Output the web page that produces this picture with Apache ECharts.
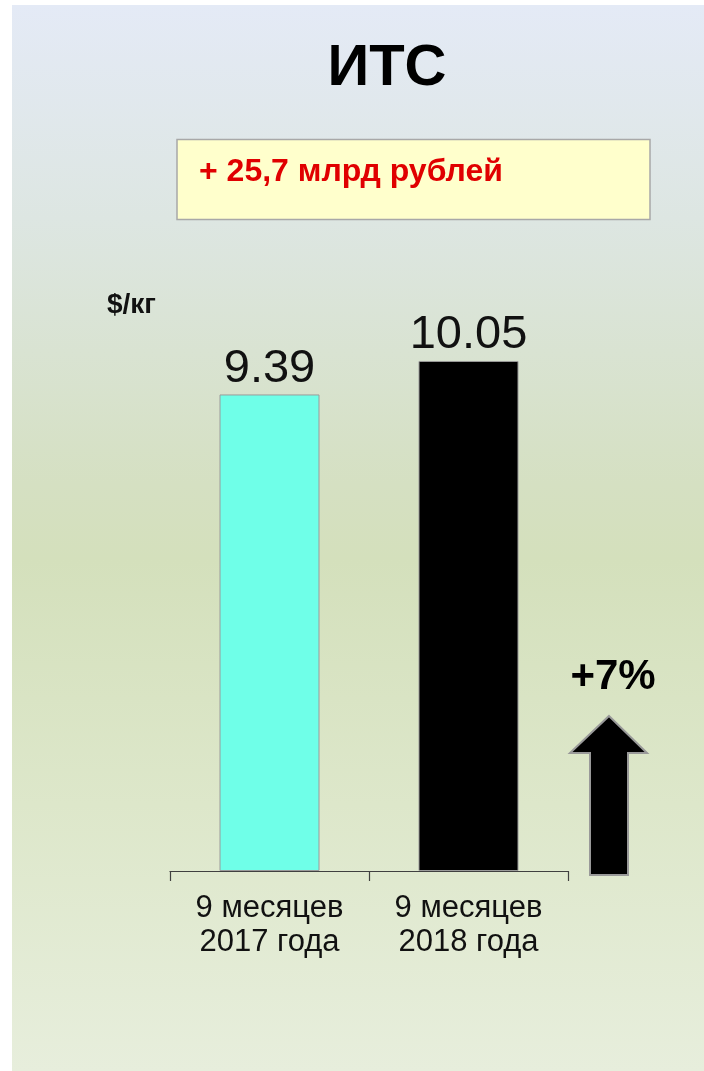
<!DOCTYPE html>
<html>
<head>
<meta charset="utf-8">
<script src="https://cdn.jsdelivr.net/npm/echarts@6/dist/echarts.min.js"></script>
<style>
html,body{margin:0;padding:0;background:#ffffff;}
#chart{width:704px;height:1071px;}
</style>
</head>
<body>
<div id="chart"></div>
<script>
var categories = ['9 месяцев\n2017 года', '9 месяцев\n2018 года'];
var values = [9.39, 10.05];
var barColors = ['#6fffe8', '#000000'];
var titleText = 'ИТС';
var noteText = '+ 25,7 млрд рублей';
var unitText = '$/кг';
var changeText = '+7%';

var FONT = '"Liberation Sans", Arial, sans-serif';
var chart = echarts.init(document.getElementById('chart'), null, {renderer: 'canvas'});

var option = {
  animation: false,
  backgroundColor: '#ffffff',
  grid: {left: 170, right: 136, top: 262, bottom: 200},
  xAxis: {
    type: 'category',
    data: categories,
    boundaryGap: true,
    axisLine: {show: true, lineStyle: {color: '#404040', width: 1.2}},
    axisTick: {show: true, length: 10, inside: false, alignWithLabel: false, lineStyle: {color: '#404040', width: 1.2}},
    axisLabel: {
      color: '#111111', fontFamily: FONT, fontSize: 31, lineHeight: 34, margin: 20
    },
    splitLine: {show: false}
  },
  yAxis: {
    type: 'value', min: 0, max: 12,
    show: false
  },
  series: [{
    type: 'bar',
    barWidth: 100,
    data: values.map(function (v, i) {
      return {value: v, itemStyle: {color: barColors[i], borderColor: '#9a9a9a', borderWidth: 1}};
    }),
    label: {
      show: true, position: 'top', distance: 2,
      color: '#111111', fontFamily: FONT, fontSize: 47,
      formatter: function (p) { return p.value.toFixed(2); }
    }
  }],
  graphic: [
    {
      type: 'rect', z: -10, silent: true,
      shape: {x: 12, y: 5, width: 692, height: 1066},
      style: {
        fill: new echarts.graphic.LinearGradient(0, 0, 0, 1, [
          {offset: 0, color: '#e4eaf6'},
          {offset: 0.2, color: '#dde6e2'},
          {offset: 0.45, color: '#d5e0c2'},
          {offset: 0.52, color: '#d4e0bc'},
          {offset: 0.75, color: '#dde7ca'},
          {offset: 1, color: '#e7eedc'}
        ])
      }
    },
    {
      type: 'text', z: 10,
      style: {x: 387, y: 69, text: titleText, align: 'center', verticalAlign: 'middle',
        fill: '#000000', font: 'bold 58px ' + FONT}
    },
    {
      type: 'rect', z: 5,
      shape: {x: 177, y: 139.5, width: 473, height: 80},
      style: {fill: '#ffffcc', stroke: '#a8a8a8', lineWidth: 1.5}
    },
    {
      type: 'text', z: 10,
      style: {x: 199, y: 172, text: noteText, align: 'left', verticalAlign: 'middle',
        fill: '#e00000', font: 'bold 32px ' + FONT}
    },
    {
      type: 'text', z: 10,
      style: {x: 107, y: 305, text: unitText, align: 'left', verticalAlign: 'middle',
        fill: '#111111', font: 'bold 28px ' + FONT}
    },
    {
      type: 'text', z: 10,
      style: {x: 613, y: 677, text: changeText, align: 'center', verticalAlign: 'middle',
        fill: '#000000', font: 'bold 42px ' + FONT}
    },
    {
      type: 'polygon', z: 10,
      shape: {points: [[609, 716], [647, 753], [628, 753], [628, 875], [590, 875], [590, 753], [570, 753]]},
      style: {fill: '#000000', stroke: '#999999', lineWidth: 2, lineJoin: 'miter'}
    }
  ]
};
chart.setOption(option);
</script>
</body>
</html>
